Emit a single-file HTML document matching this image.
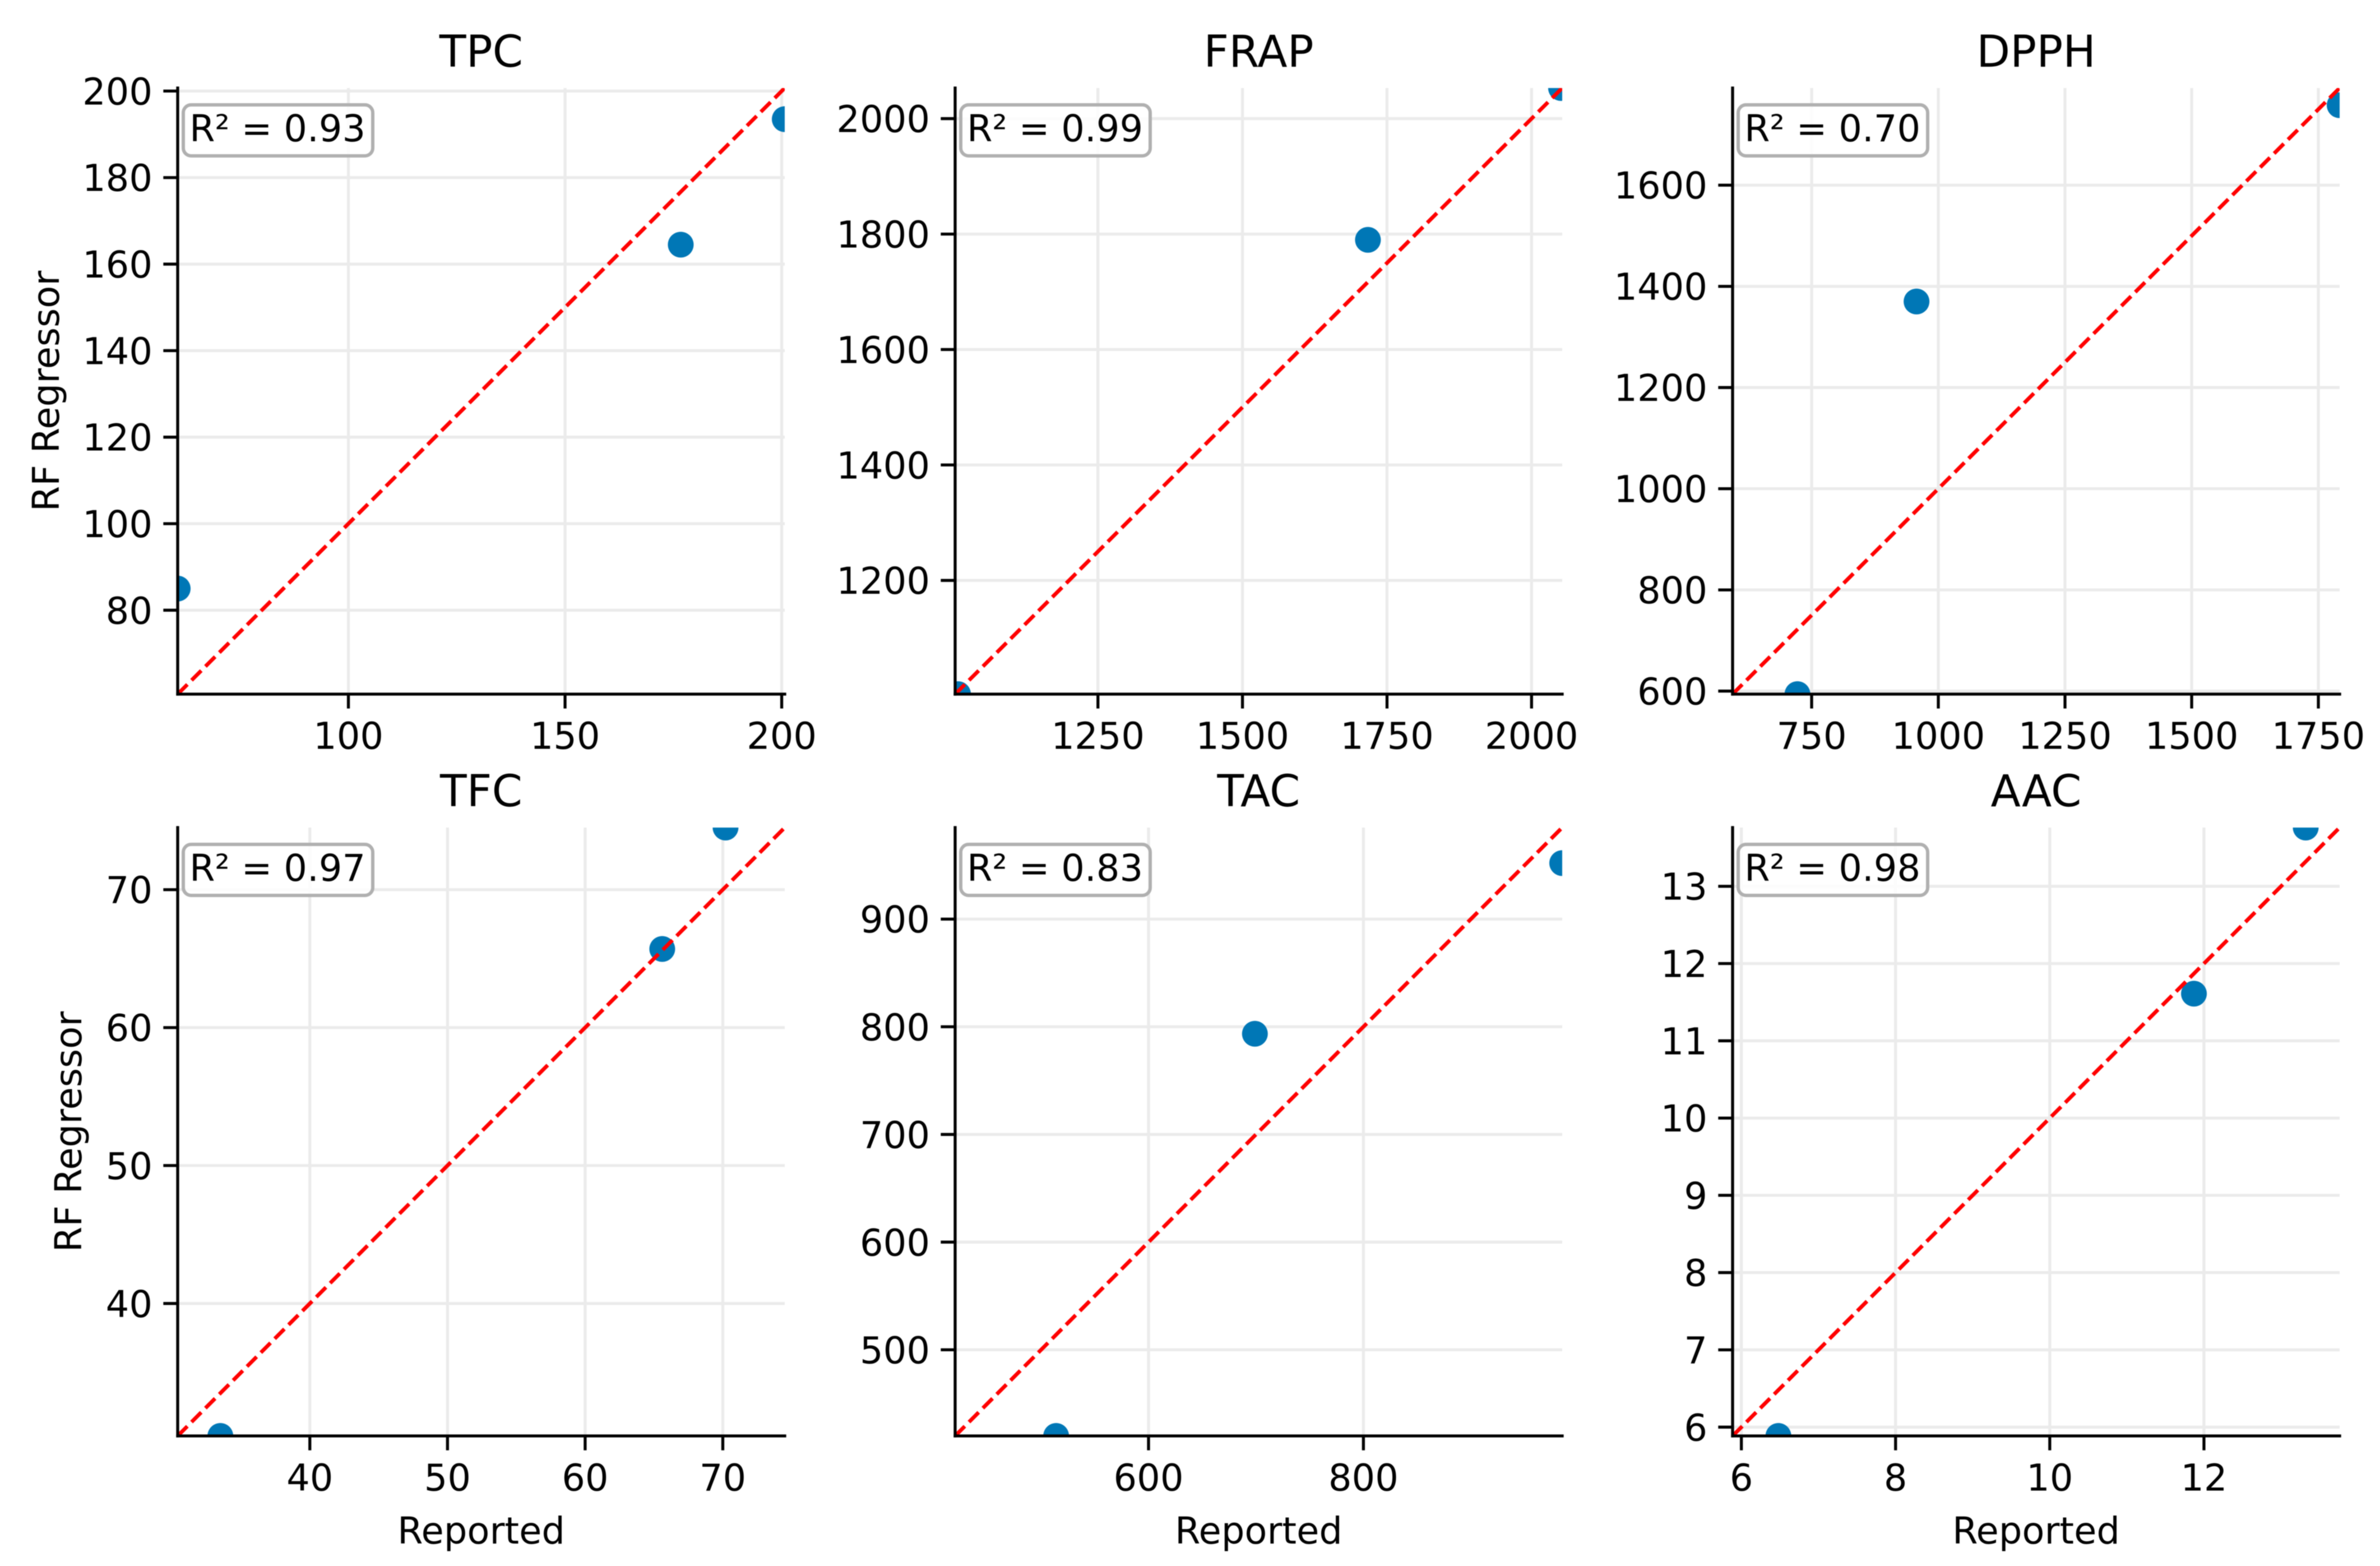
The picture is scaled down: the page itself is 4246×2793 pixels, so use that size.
<!DOCTYPE html>
<html lang="en">
<head>
<meta charset="utf-8">
<title>RF Regressor vs Reported</title>
<style>
html,body{margin:0;padding:0;background:#fff;width:4246px;height:2793px;overflow:hidden}
svg{display:block;filter:blur(0.7px)}
text{font-family:"DejaVu Sans","Liberation Sans",sans-serif;fill:#000}
</style>
</head>
<body>
<svg id="figure" xmlns="http://www.w3.org/2000/svg" width="4246" height="2793" viewBox="0 0 4246 2793"></svg>
<script>
// TPC
const tpcReported = [60.6, 176.7, 200.7];
const tpcPredicted = [85, 164.5, 193.5];
const tpcXLimits = [60.6, 200.7];
const tpcYLimits = [60.6, 200.7];
const tpcXTicks = [100, 150, 200];
const tpcYTicks = [80, 100, 120, 140, 160, 180, 200];
// FRAP
const frapReported = [1008, 1717, 2051];
const frapPredicted = [1003, 1790, 2053];
const frapXLimits = [1003, 2053];
const frapYLimits = [1003, 2053];
const frapXTicks = [1250, 1500, 1750, 2000];
const frapYTicks = [1200, 1400, 1600, 1800, 2000];
// DPPH
const dpphReported = [722, 957, 1792];
const dpphPredicted = [594, 1370, 1758];
const dpphXLimits = [594, 1792];
const dpphYLimits = [594, 1792];
const dpphXTicks = [750, 1000, 1250, 1500, 1750];
const dpphYTicks = [600, 800, 1000, 1200, 1400, 1600];
// TFC
const tfcReported = [33.5, 65.6, 70.2];
const tfcPredicted = [30.4, 65.7, 74.5];
const tfcXLimits = [30.4, 74.5];
const tfcYLimits = [30.4, 74.5];
const tfcXTicks = [40, 50, 60, 70];
const tfcYTicks = [40, 50, 60, 70];
// TAC
const tacReported = [514, 699, 985];
const tacPredicted = [420, 793.5, 952];
const tacXLimits = [420, 985];
const tacYLimits = [420, 985];
const tacXTicks = [600, 800];
const tacYTicks = [500, 600, 700, 800, 900];
// AAC
const aacReported = [6.48, 11.87, 13.32];
const aacPredicted = [5.886, 11.61, 13.76];
const aacXLimits = [5.886, 13.76];
const aacYLimits = [5.886, 13.76];
const aacXTicks = [6, 8, 10, 12];
const aacYTicks = [6, 7, 8, 9, 10, 11, 12, 13];
// Labels
const panelTitles = ['TPC', 'FRAP', 'DPPH', 'TFC', 'TAC', 'AAC'];
const r2Values = ['0.93', '0.99', '0.70', '0.97', '0.83', '0.98'];
const allReported = [tpcReported, frapReported, dpphReported, tfcReported, tacReported, aacReported];
const allPredicted = [tpcPredicted, frapPredicted, dpphPredicted, tfcPredicted, tacPredicted, aacPredicted];
const allXLimits = [tpcXLimits, frapXLimits, dpphXLimits, tfcXLimits, tacXLimits, aacXLimits];
const allYLimits = [tpcYLimits, frapYLimits, dpphYLimits, tfcYLimits, tacYLimits, aacYLimits];
const allXTicks = [tpcXTicks, frapXTicks, dpphXTicks, tfcXTicks, tacXTicks, aacXTicks];
const allYTicks = [tpcYTicks, frapYTicks, dpphYTicks, tfcYTicks, tacYTicks, aacYTicks];

const NS = 'http://www.w3.org/2000/svg';
const figure = document.getElementById('figure');
const columnLeft = c => [317, 1704, 3091][c];
const rowTop = r => [157, 1476][r];
const rowHeight = r => [1081, 1085][r];
const PLOT_W = 1083;
const LW = 5.3;
const TICK = 23;
const TICK_FONT = 65.5;
const LABEL_FONT = 65.5;
const GRID = '#ebebeb';

function make(parent, tag, attrs, content) {
  const node = document.createElementNS(NS, tag);
  for (const key in attrs) node.setAttribute(key, attrs[key]);
  if (content !== undefined) node.textContent = content;
  parent.appendChild(node);
  return node;
}

function drawPanel(i) {
  const col = i % 3;
  const row = Math.floor(i / 3);
  const left = columnLeft(col);
  const top = rowTop(row);
  const plotH = rowHeight(row);
  const right = left + PLOT_W;
  const bottom = top + plotH;
  const xLim = allXLimits[i];
  const yLim = allYLimits[i];
  const xScale = v => left + (v - xLim[0]) / (xLim[1] - xLim[0]) * PLOT_W;
  const yScale = v => bottom - (v - yLim[0]) / (yLim[1] - yLim[0]) * plotH;
  const title = panelTitles[i];

  const group = make(figure, 'g', {});
  
  

  const clip = make(group, 'clipPath', { id: 'clip-' + i });
  make(clip, 'rect', { x: left, y: top, width: PLOT_W, height: plotH });

  allXTicks[i].forEach(v => {
    const x = xScale(v);
    const grid = make(group, 'line', { x1: x, x2: x, y1: top, y2: bottom, stroke: GRID, 'stroke-width': LW });
    
    
    const tick = make(group, 'line', { x1: x, x2: x, y1: bottom, y2: bottom + TICK + LW / 2, stroke: '#000', 'stroke-width': LW });
    
    
    const label = make(group, 'text', { x: x, y: bottom + 97.5, 'font-size': TICK_FONT, 'text-anchor': 'middle' }, String(v));
    
    
  });

  allYTicks[i].forEach(v => {
    const y = yScale(v);
    const grid = make(group, 'line', { x1: left, x2: right, y1: y, y2: y, stroke: GRID, 'stroke-width': LW });
    
    
    const tick = make(group, 'line', { x1: left - TICK - LW / 2, x2: left, y1: y, y2: y, stroke: '#000', 'stroke-width': LW });
    
    
    const label = make(group, 'text', { x: left - 45, y: y + 24, 'font-size': TICK_FONT, 'text-anchor': 'end' }, String(v));
    
    
  });

  const clipped = make(group, 'g', { 'clip-path': 'url(#clip-' + i + ')' });
  
  

  allReported[i].forEach((v, k) => {
    const point = make(clipped, 'circle', { cx: xScale(v), cy: yScale(allPredicted[i][k]), r: 23, fill: '#0077b6' });
    
    
  });

  const diagonal = make(clipped, 'line', {
    x1: xScale(xLim[0]), y1: yScale(yLim[0]), x2: xScale(xLim[1]), y2: yScale(yLim[1]),
    stroke: '#ff0000', 'stroke-width': 6.8, 'stroke-dasharray': '24.4 10.6'
  });
  
  

  const spineY = make(group, 'line', { x1: left, x2: left, y1: top, y2: bottom, stroke: '#000', 'stroke-width': LW, 'stroke-linecap': 'square' });
  
  
  const spineX = make(group, 'line', { x1: left, x2: right, y1: bottom, y2: bottom, stroke: '#000', 'stroke-width': LW, 'stroke-linecap': 'square' });
  
  

  const box = make(group, 'rect', {
    x: left + 10, y: top + 30, width: 338, height: 91, rx: 14, ry: 14,
    fill: '#fff', 'fill-opacity': 0.85, stroke: '#b0b0b0', 'stroke-width': 6
  });
  
  
  const r2 = make(group, 'text', { x: left + 21, y: top + 95, 'font-size': LABEL_FONT }, 'R\u00b2 = ' + r2Values[i]);
  
  

  const heading = make(group, 'text', { x: left + PLOT_W / 2, y: top - 38, 'font-size': 78, 'text-anchor': 'middle' }, title);
  
  

  if (row === 1) {
    const xTitle = make(group, 'text', { x: left + PLOT_W / 2, y: bottom + 192, 'font-size': LABEL_FONT, 'text-anchor': 'middle' }, 'Reported');
    
    
  }
  if (col === 0) {
    const titleX = row === 0 ? 105 : 145;
    const titleY = top + plotH / 2;
    const yTitle = make(group, 'text', { x: titleX, y: titleY, 'font-size': LABEL_FONT, 'text-anchor': 'middle', transform: 'rotate(-90 ' + titleX + ' ' + titleY + ')' }, 'RF Regressor');
    
    
  }
}

panelTitles.forEach((_, i) => drawPanel(i));
</script>
</body>
</html>
